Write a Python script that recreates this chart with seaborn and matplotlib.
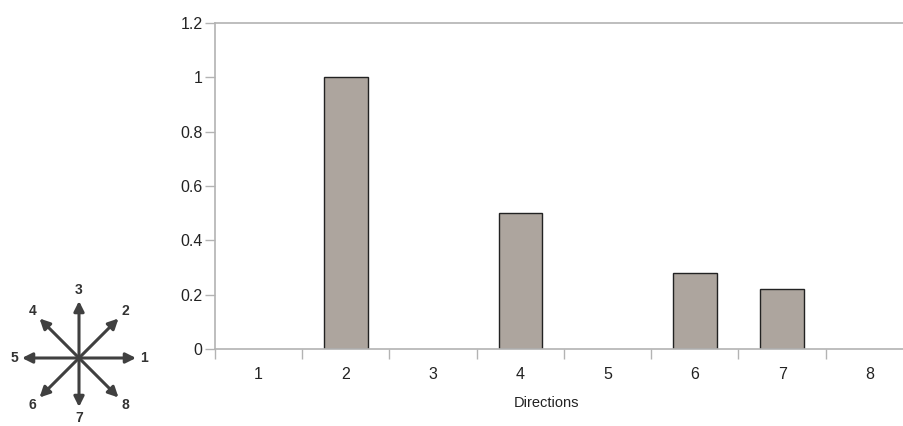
import numpy as np
import pandas as pd
import matplotlib.pyplot as plt
import seaborn as sns
from matplotlib.patches import FancyArrowPatch

# bar data
directions = ['1', '2', '3', '4', '5', '6', '7', '8']
values = [0, 1.0, 0, 0.5, 0, 0.28, 0.22, 0]
yticks = [0, 0.2, 0.4, 0.6, 0.8, 1.0, 1.2]

# compass legend (angle in degrees for each direction label)
compass_labels = ['1', '2', '3', '4', '5', '6', '7', '8']
compass_angles = [0, 45, 90, 135, 180, 225, 270, 315]

sns.set_style('white')
plt.rcParams['font.family'] = ['Liberation Sans', 'DejaVu Sans']

W, H = 904, 426
fig = plt.figure(figsize=(W / 100, H / 100), dpi=100)

### main bar chart
left, right, top, bottom = 215, 913, 23, 349
ax = fig.add_axes([left / W, 1 - bottom / H, (right - left) / W, (bottom - top) / H])
df = pd.DataFrame({'dir': directions, 'val': values})
sns.barplot(data=df, x='dir', y='val', color='#ada59e', saturation=1,
            edgecolor='#222222', linewidth=1.0, width=0.5, ax=ax)
for p in ax.patches:
    if p.get_height() == 0:
        p.set_linewidth(0)

ax.set_xlim(-0.5, len(directions) - 0.5)
ax.set_ylim(0, 1.2)
ax.set_yticks(yticks)
ax.set_yticklabels([f'{v:g}' for v in yticks])
ax.set_xticks(range(len(directions)))
ax.set_xticks(np.arange(-0.5, len(directions)), minor=True)
ax.tick_params(axis='x', which='major', length=0, pad=13, labelsize=11.5, labelcolor='#222222')
ax.tick_params(axis='x', which='minor', length=7, width=1, color='#b3b3b3', bottom=True)
ax.tick_params(axis='y', length=7, width=1, color='#b3b3b3', pad=2, labelsize=11.5,
               labelcolor='#222222', left=True)
ax.set_xlabel('Directions', fontsize=10.5, color='#222222')
ax.xaxis.set_label_coords((547 - left) / (right - left), -0.145)
ax.set_ylabel('')
for s in ['left', 'top', 'bottom']:
    ax.spines[s].set_color('#b3b3b3')
    ax.spines[s].set_linewidth(1.2)
ax.spines['right'].set_visible(False)

### compass drawn in pixel coordinates
cax = fig.add_axes([0, 0, 1, 1])
cax.set_xlim(0, W)
cax.set_ylim(H, 0)
cax.axis('off')
cx, cy = 79, 358
arrow_len = 57
label_len = 66
for lab, ang in zip(compass_labels, compass_angles):
    a = np.deg2rad(ang)
    diag = ang % 90 != 0
    L = arrow_len * (0.98 if diag else 1.0)
    if ang == 270:
        L = 49
    tx, ty = cx + L * np.cos(a), cy - L * np.sin(a)
    arr = FancyArrowPatch((cx, cy), (tx, ty), arrowstyle='-|>', mutation_scale=15,
                          color='#404040', linewidth=2.2, shrinkA=0, shrinkB=0)
    cax.add_patch(arr)
    Ll = label_len * (1.0 if diag else 0.98)
    lx, ly = cx + Ll * np.cos(a), cy - Ll * np.sin(a)
    if ang == 90:
        ly = cy - 68
    if ang == 270:
        ly = cy + 60
    cax.text(lx, ly, lab, ha='center', va='center', fontsize=10,
             fontweight='bold', color='#333333')

fig.savefig('out.png', dpi=100)
